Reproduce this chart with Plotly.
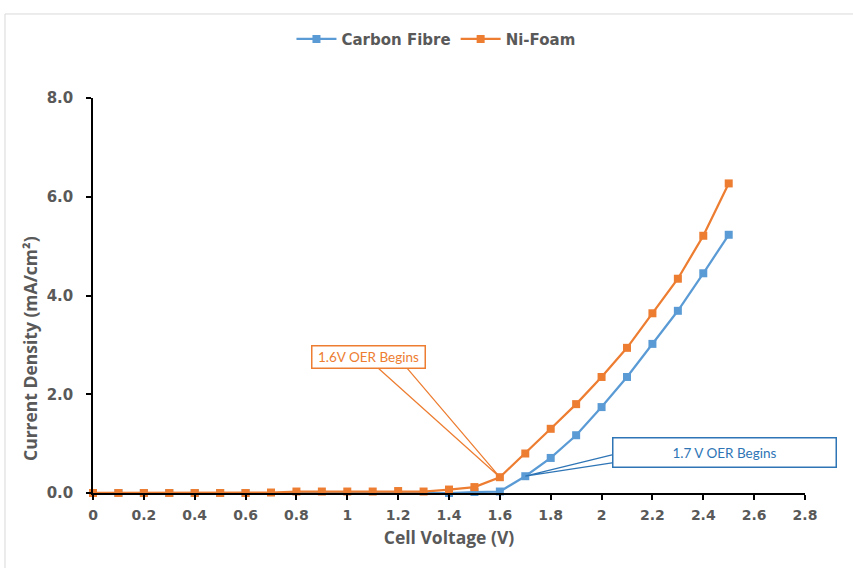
import plotly.graph_objects as go

# Cell voltage (V)
voltage = [0.0, 0.1, 0.2, 0.3, 0.4, 0.5, 0.6, 0.7, 0.8, 0.9, 1.0, 1.1, 1.2,
           1.3, 1.4, 1.5, 1.6, 1.7, 1.8, 1.9, 2.0, 2.1, 2.2, 2.3, 2.4, 2.5]

# Current density (mA/cm²) per electrode
carbon_fibre = [0.0, 0.0, 0.0, 0.0, 0.0, 0.0, 0.0, -0.01, -0.01, -0.01, -0.01, -0.01, -0.01,
                -0.01, 0.0, 0.02, 0.03, 0.34, 0.71, 1.17, 1.74, 2.35, 3.02, 3.69, 4.45, 5.23]
ni_foam = [0.0, 0.0, 0.0, 0.0, 0.0, 0.0, 0.0, 0.01, 0.03, 0.03, 0.03, 0.03, 0.04,
           0.03, 0.07, 0.12, 0.32, 0.80, 1.30, 1.80, 2.35, 2.94, 3.64, 4.34, 5.21, 6.27]

y_ticks = [0, 2, 4, 6, 8]

BLUE = "#5B9BD5"
ORANGE = "#ED7D31"
BLUE_TXT = "#2E75B6"
GREY = "#595959"

fig = go.Figure()
fig.add_trace(go.Scatter(
    x=voltage, y=carbon_fibre, name="Carbon Fibre", mode="lines+markers",
    line=dict(color=BLUE, width=2.25),
    marker=dict(symbol="square", size=8, color=BLUE),
    cliponaxis=False))
fig.add_trace(go.Scatter(
    x=voltage, y=ni_foam, name="Ni-Foam", mode="lines+markers",
    line=dict(color=ORANGE, width=2.25),
    marker=dict(symbol="square", size=8, color=ORANGE),
    cliponaxis=False))

# Onset points highlighted by the callouts
ni_onset = (voltage[16], ni_foam[16])
cf_onset = (voltage[17], carbon_fibre[17])

shapes = [
    # outer chart frame
    dict(type="rect", xref="paper", yref="paper",
         x0=-0.1236, x1=1.3, y0=-0.4, y1=1.2127,
         line=dict(color="#D9D9D9", width=1), fillcolor="rgba(0,0,0,0)", layer="below"),
    # callout leaders
    dict(type="path", xref="x", yref="y",
         path=f"M 1.121 2.53 L {ni_onset[0]} {ni_onset[1]} L 1.235 2.53",
         line=dict(color=ORANGE, width=1.25)),
    dict(type="path", xref="x", yref="y",
         path=f"M 2.041 0.77 L {cf_onset[0]} {cf_onset[1]} L 2.041 0.61",
         line=dict(color=BLUE_TXT, width=1.25)),
]

annotations = [
    dict(x=1.083, y=2.763, xref="x", yref="y", text="1.6V OER Begins",
         showarrow=False, width=112, height=21, borderpad=0,
         bordercolor=ORANGE, borderwidth=1.5, bgcolor="white",
         font=dict(family="Lato, Open Sans, sans-serif", size=13.5, color=ORANGE)),
    dict(x=2.483, y=0.83, xref="x", yref="y", text="1.7 V OER Begins",
         showarrow=False, width=222, height=28, borderpad=0,
         bordercolor=BLUE_TXT, borderwidth=1.5, bgcolor="white",
         font=dict(family="Lato, Open Sans, sans-serif", size=13.5, color=BLUE_TXT)),
    # vertical y-axis title
    dict(x=-0.0885, y=0.367, xref="paper", yref="paper", text="Current Density (mA/cm²)",
         textangle=-90, showarrow=False, xanchor="center", yanchor="middle",
         font=dict(family="Open Sans, sans-serif", size=17.5, color=GREY, weight="bold")),
]

fig.update_layout(
    width=853, height=568,
    margin=dict(l=93, r=48, t=98, b=75),
    paper_bgcolor="white", plot_bgcolor="white",
    font=dict(family="DejaVu Sans", color=GREY),
    showlegend=True,
    legend=dict(orientation="h", x=0.4817, xanchor="center", y=1.149, yanchor="middle",
                font=dict(family="DejaVu Sans", size=15, color=GREY, weight="bold"),
                itemwidth=40),
    shapes=shapes,
    annotations=annotations,
    xaxis=dict(
        range=[0, 2.8], dtick=0.2, tick0=0,
        showline=True, linecolor="black", linewidth=1.5,
        ticks="outside", ticklen=5, tickcolor="black", tickwidth=1.5,
        showgrid=False, zeroline=False, ticklabelstandoff=3,
        tickfont=dict(family="DejaVu Sans", size=14, color=GREY, weight="bold"),
        title=dict(text="Cell Voltage (V)", standoff=10,
                   font=dict(family="Open Sans, sans-serif", size=17.5, color=GREY, weight="bold")),
    ),
    yaxis=dict(
        range=[0, 8], tickvals=y_ticks, tickformat=".1f",
        showline=True, linecolor="black", linewidth=1.5,
        ticks="outside", ticklen=5, tickcolor="black", tickwidth=1.5,
        showgrid=False, zeroline=False, ticklabelstandoff=10,
        tickfont=dict(family="DejaVu Sans", size=15, color=GREY, weight="bold"),
    ),
)

fig.write_html("out.html")
